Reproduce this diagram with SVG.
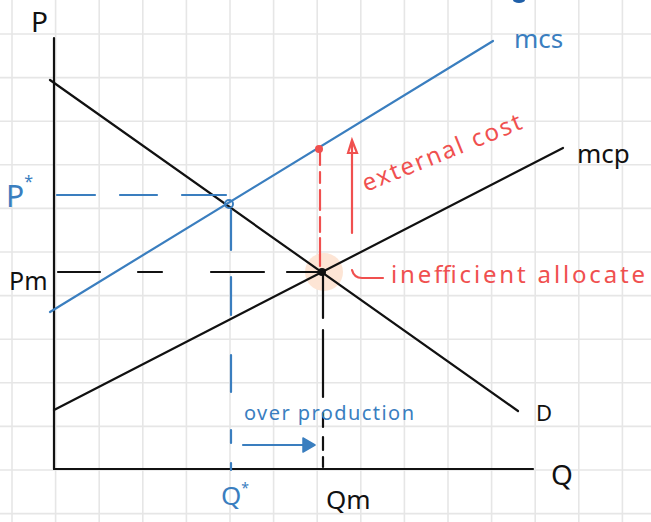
<svg xmlns="http://www.w3.org/2000/svg" width="651" height="522" viewBox="0 0 651 522">
<style>
.grid{stroke:#e6e6e6;stroke-width:1.6}
.k{stroke:#111;stroke-width:2.2;fill:none;stroke-linecap:round}
.b{stroke:#3a7ebf;stroke-width:2.2;fill:none;stroke-linecap:round}
.r{stroke:#f0504f;stroke-width:2.2;fill:none;stroke-linecap:round}
.t{font-family:"Noto Sans","Liberation Sans",sans-serif}
.tk{fill:#111}
.tb{fill:#3a7ebf}
.tr{fill:#f0504f}
</style>
<rect width="651" height="522" fill="#ffffff"/>
<g id="grid">
<path class="grid" d="M12 0V522M55.6 0V522M99.2 0V522M142.8 0V522M186.4 0V522M230 0V522M273.6 0V522M317.2 0V522M360.8 0V522M404.4 0V522M448 0V522M491.6 0V522M535.2 0V522M578.8 0V522M622.4 0V522"/>
<path class="grid" d="M0 34H651M0 77.6H651M0 121.2H651M0 164.8H651M0 208.4H651M0 252H651M0 295.6H651M0 339.2H651M0 382.8H651M0 426.4H651M0 470H651M0 513.6H651"/>
</g>
<ellipse cx="519" cy="0" rx="6" ry="3" fill="#1f5fa8"/>
<g id="highlight"><circle cx="324" cy="272" r="19" fill="#fde5d5"/></g>
<g id="axes">
<line class="k" x1="54" y1="38" x2="54" y2="469"/>
<line class="k" x1="54" y1="469" x2="533" y2="469"/>
</g>
<g id="curves">
<line id="D" class="k" x1="50" y1="80" x2="518" y2="411"/>
<line id="MCP" class="k" x1="54" y1="410" x2="563" y2="148"/>
<line id="MCS" class="b" x1="50" y1="312" x2="493" y2="41"/>
</g>
<g id="connectors">
<path class="b" d="M57 195H95M120 195H157M182 195H226"/>
<path class="b" d="M231 210V250M231 277V315M231 355V392M231 430V443M231 463V470"/>
<path class="k" d="M58 272H100M138 272H162M211 272H264M287 272H318"/>
<path class="k" d="M323 272V318M323 330V397M323 413V427M323 437V450M323 457V467"/>
<path class="r" d="M320 152V165M320 172V183M320 190V210M320 217V232M320 238V266"/>
<path class="r" d="M352 233V141M348 153L352 140L357 153Z"/>
<path class="b" d="M243 445H305"/>
<path d="M303 438L315 445L303 452Z" fill="#3a7ebf" stroke="#3a7ebf" stroke-width="1.5" stroke-linejoin="round"/>
<path class="r" d="M352 270Q354 278 362 278H383"/>
</g>
<g id="points">
<circle cx="319" cy="149" r="4" fill="#f0504f"/>
<circle cx="229" cy="204" r="4" fill="none" stroke="#3a7ebf" stroke-width="2"/>
<circle cx="322" cy="272" r="4" fill="#111"/>
</g>
<g id="labels" class="t">
<text class="tk" x="31" y="32" font-size="28">P</text>
<text class="tb" x="6" y="207" font-size="30">P<tspan font-size="16" dy="-20">*</tspan></text>
<text class="tk" x="9" y="290" font-size="25">Pm</text>
<text class="tb" x="221" y="505" font-size="26">Q<tspan font-size="14" dy="-12">*</tspan></text>
<text class="tk" x="326" y="509" font-size="26">Qm</text>
<text class="tk" x="551" y="485" font-size="28">Q</text>
<text class="tk" x="536" y="421" font-size="22">D</text>
<text class="tb" x="514" y="48" font-size="26">mcs</text>
<text class="tk" x="577" y="163" font-size="26">mcp</text>
<text class="tr" x="391" y="283" font-size="24" textLength="254" lengthAdjust="spacing">inefficient allocate</text>
<text class="tb" x="244" y="420" font-size="20" textLength="170" lengthAdjust="spacing">over production</text>
<text class="tr" x="366" y="192" font-size="24" textLength="170" lengthAdjust="spacing" transform="rotate(-22 366 192)">external cost</text>
</g>
</svg>
